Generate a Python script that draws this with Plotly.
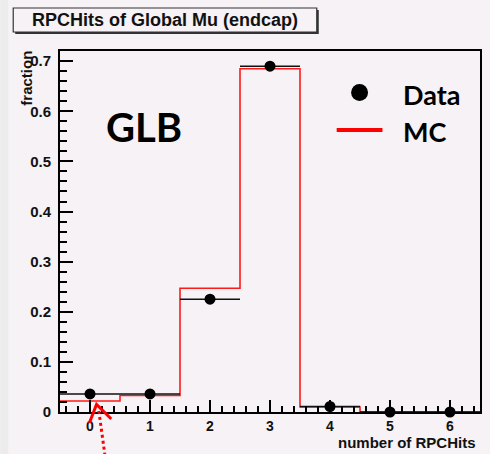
import plotly.graph_objects as go

# Number of RPC hits per global muon track in the endcap, normalised to unit area
hits = [0, 1, 2, 3, 4, 5, 6]
data_frac = [0.036, 0.036, 0.225, 0.690, 0.011, 0.0, 0.0]
bin_edges = [-0.5, 0.5, 1.5, 2.5, 3.5, 4.5, 5.5, 6.5]
mc_frac = [0.022, 0.033, 0.247, 0.685, 0.010, 0.0, 0.0]
y_ticks = [0, 0.1, 0.2, 0.3, 0.4, 0.5, 0.6, 0.7]
y_tick_text = ["0", "0.1", "0.2", "0.3", "0.4", "0.5", "0.6", "0.7"]

W, H = 490, 454
ML, MR, MT, MB = 60, 8, 51, 42
PW, PH = W - ML - MR, H - MT - MB

CANVAS = "#f6f2f6"
ROOT_FONT = "Liberation Sans"
SLIDE_FONT = "Lato"


def px(x):
    return (x - ML) / PW


def py(y):
    return (H - MB - y) / PH


fig = go.Figure()

# MC: step histogram over the bin edges
fig.add_trace(go.Scatter(
    x=bin_edges,
    y=mc_frac + [mc_frac[-1]],
    mode="lines",
    line=dict(color="#ff1a1a", width=1.6, shape="hv"),
    showlegend=False,
    hoverinfo="skip",
))

# Data: points with bin-width horizontal bars
fig.add_trace(go.Scatter(
    x=hits,
    y=data_frac,
    mode="markers",
    marker=dict(color="black", size=11, symbol="circle"),
    error_x=dict(type="constant", value=0.5, width=0, thickness=1.6, color="#111111"),
    cliponaxis=False,
    showlegend=False,
))

shapes = []
annotations = []

# left strip of the canvas
shapes.append(dict(type="rect", xref="paper", yref="paper",
                   x0=px(0), x1=px(8), y0=py(H), y1=py(0),
                   fillcolor="#ececec", line=dict(width=0), layer="below"))

# title box with ROOT-style shadow
shapes.append(dict(type="rect", xref="paper", yref="paper",
                   x0=px(15), x1=px(320), y0=py(34), y1=py(10),
                   fillcolor="#333333", line=dict(width=0)))
shapes.append(dict(type="rect", xref="paper", yref="paper",
                   x0=px(13), x1=px(318), y0=py(32), y1=py(8),
                   fillcolor=CANVAS, line=dict(color="#333333", width=1.2)))
annotations.append(dict(text="<b>RPCHits of Global Mu (endcap)</b>",
                        xref="paper", yref="paper", x=px(165), y=py(20),
                        xanchor="center", yanchor="middle", showarrow=False,
                        font=dict(family=ROOT_FONT, size=18, color="#111111")))

# axis titles
annotations.append(dict(text="<b>number of RPCHits</b>", xref="paper", yref="paper",
                        x=px(480), y=py(442), xanchor="right", yanchor="middle",
                        showarrow=False,
                        font=dict(family=ROOT_FONT, size=15, color="#111111")))
annotations.append(dict(text="<b>fraction</b>", xref="paper", yref="paper",
                        x=px(26), y=py(49), xanchor="center", yanchor="top",
                        textangle=-90, showarrow=False,
                        font=dict(family=ROOT_FONT, size=15, color="#111111")))

# slide label
annotations.append(dict(text="<b>GLB</b>", xref="paper", yref="paper",
                        x=px(104), y=py(127), xanchor="left", yanchor="middle",
                        showarrow=False,
                        font=dict(family=SLIDE_FONT, size=40, color="black")))

# legend
shapes.append(dict(type="circle", xref="paper", yref="paper",
                   x0=px(352.5), x1=px(369.5), y0=py(101), y1=py(84),
                   fillcolor="black", line=dict(width=0)))
shapes.append(dict(type="line", xref="paper", yref="paper",
                   x0=px(338), x1=px(384), y0=py(130), y1=py(130),
                   line=dict(color="#ff0000", width=4)))
annotations.append(dict(text="<b>Data</b>", xref="paper", yref="paper",
                        x=px(403), y=py(94), xanchor="left", yanchor="middle",
                        showarrow=False,
                        font=dict(family=SLIDE_FONT, size=27, color="black")))
annotations.append(dict(text="<b>MC</b>", xref="paper", yref="paper",
                        x=px(403), y=py(131), xanchor="left", yanchor="middle",
                        showarrow=False,
                        font=dict(family=SLIDE_FONT, size=27, color="black")))

# red pointer below the first bin
shapes.append(dict(type="path", xref="paper", yref="paper",
                   path=f"M {px(89.5)} {py(423)} L {px(96.7)} {py(404.5)} L {px(111.5)} {py(419)}",
                   line=dict(color="#ff0000", width=3)))
shapes.append(dict(type="line", xref="paper", yref="paper",
                   x0=px(99), x1=px(105), y0=py(411), y1=py(454),
                   line=dict(color="#ff0000", width=3, dash="dot")))

axis_common = dict(
    showgrid=False, zeroline=False, showline=True, linecolor="black", linewidth=2,
    mirror=True, ticks="inside", tickcolor="black", tickwidth=1.5,
)

fig.update_xaxes(range=[-0.5, 6.5], tickmode="array", tickvals=hits,
                 ticklen=12, ticklabelstandoff=0,
                 tickfont=dict(family=ROOT_FONT, size=14, color="#111111", weight="bold"),
                 minor=dict(ticks="inside", ticklen=6, dtick=0.2, tick0=0,
                            tickcolor="black", tickwidth=1.5, showgrid=False),
                 **axis_common)
fig.update_yaxes(range=[0, 0.7203], tickmode="array", tickvals=y_ticks,
                 ticktext=y_tick_text, ticklen=13, ticklabelstandoff=4,
                 tickfont=dict(family=ROOT_FONT, size=15, color="#111111", weight="bold"),
                 minor=dict(ticks="inside", ticklen=7, dtick=0.02, tick0=0,
                            tickcolor="black", tickwidth=1.5, showgrid=False),
                 **axis_common)

fig.update_layout(
    width=W, height=H,
    margin=dict(l=ML, r=MR, t=MT, b=MB),
    paper_bgcolor=CANVAS, plot_bgcolor=CANVAS,
    shapes=shapes, annotations=annotations,
    showlegend=False,
)

fig.write_html("out.html")
